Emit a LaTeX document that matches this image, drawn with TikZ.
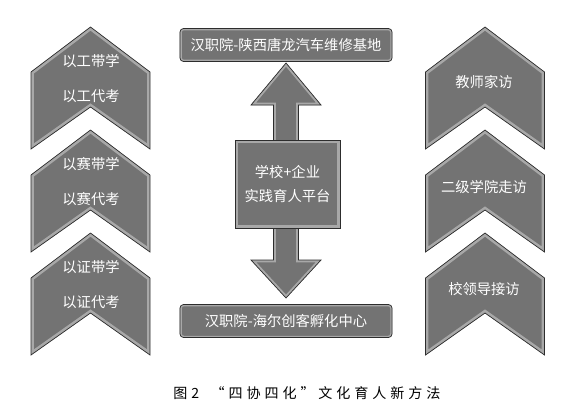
\documentclass[tikz,border=0pt]{standalone}
\usepackage{fontspec}
\newfontfamily\cjk{Noto Sans CJK SC}
\newfontfamily\capfont[LetterSpace=28]{Noto Sans CJK SC}
\usetikzlibrary{positioning}
\definecolor{chevgray}{RGB}{115,115,115}
\definecolor{bevel}{RGB}{168,168,168}
\definecolor{edge}{RGB}{45,45,45}
\newcommand{\chevron}[2]{(#1-59.5,#2+45) -- (#1,#2) -- (#1+59.5,#2+45) -- (#1+59.5,#2+122) -- (#1,#2+80) -- (#1-59.5,#2+122) -- cycle}
\newcommand{\dualarrow}{(286,63) -- (321,105) -- (298.5,105) -- (298.5,260) -- (321,260) -- (286,298) -- (251,260) -- (273.5,260) -- (273.5,105) -- (251,105) -- cycle}

\begin{document}
\begin{tikzpicture}[x=0.03cm, y=-0.03cm,
  chev/.style={draw=edge, line width=0.6pt},
  bar/.style={rounded corners=3pt, fill=chevgray, draw=edge, line width=0.6pt,
    minimum width=6.36cm, minimum height=0.99cm, inner sep=0pt,
    path picture={\draw[bevel, line width=3pt, rounded corners=3pt]
      (path picture bounding box.south west) rectangle (path picture bounding box.north east);}},
  lbl/.style={font=\cjk\fontsize{12.2}{14}\selectfont, text=white, inner sep=0pt}
]
  \useasboundingbox (0,0) rectangle (567,416);

  % ── Chevrons (left and right) ──
  \foreach \cx in {90.5,485}
    \foreach \py in {27,130,233} {
      \begin{scope}
        \clip \chevron{\cx}{\py};
        \fill[chevgray] \chevron{\cx}{\py};
        \draw[bevel, line width=5pt] \chevron{\cx}{\py};
      \end{scope}
      \draw[chev] \chevron{\cx}{\py};
    }

  \node[lbl] (gonga) at (91,61) {以工带学};
  \node[lbl] (gongb) at (91,96) {以工代考};
  \node[lbl] (saia) at (91,164) {以赛带学};
  \node[lbl] (saib) at (91,199) {以赛代考};
  \node[lbl] (zhenga) at (91,267) {以证带学};
  \node[lbl] (zhengb) at (91,302) {以证代考};

  \node[lbl] (teacher) at (484,82) {教师家访};
  \node[lbl] (college) at (484,187) {二级学院走访};
  \node[lbl] (leader) at (484,289) {校领导接访};

  % ── Centre: bases and platform ──
  \node[bar] (tanglong) at (286,45) {};
  \node[lbl] at (tanglong) {汉职院-陕西唐龙汽车维修基地};
  \node[bar] (haier) at (286,321) {};
  \node[lbl] at (haier) {汉职院-海尔创客孵化中心};

  \begin{scope}
    \clip \dualarrow;
    \fill[chevgray] \dualarrow;
    \draw[bevel, line width=4pt] \dualarrow;
  \end{scope}
  \draw[chev] \dualarrow;

  \node[rectangle, fill=chevgray, draw=edge, line width=0.6pt, minimum width=3.15cm, minimum height=2.64cm,
    path picture={\draw[bevel, line width=5pt]
      (path picture bounding box.south west) rectangle (path picture bounding box.north east);}]
    (platform) at (287.5,184) {};
  \node[lbl, align=center] (platlbl) at (platform) {学校+企业\\[6pt]实践育人平台};

  % ── Caption ──
  \node[font=\capfont\fontsize{12}{14}\selectfont, inner sep=0pt] (caption) at (307,393) {图2\hspace{0.8em}“四协四化”文化育人新方法};
\end{tikzpicture}
\end{document}
